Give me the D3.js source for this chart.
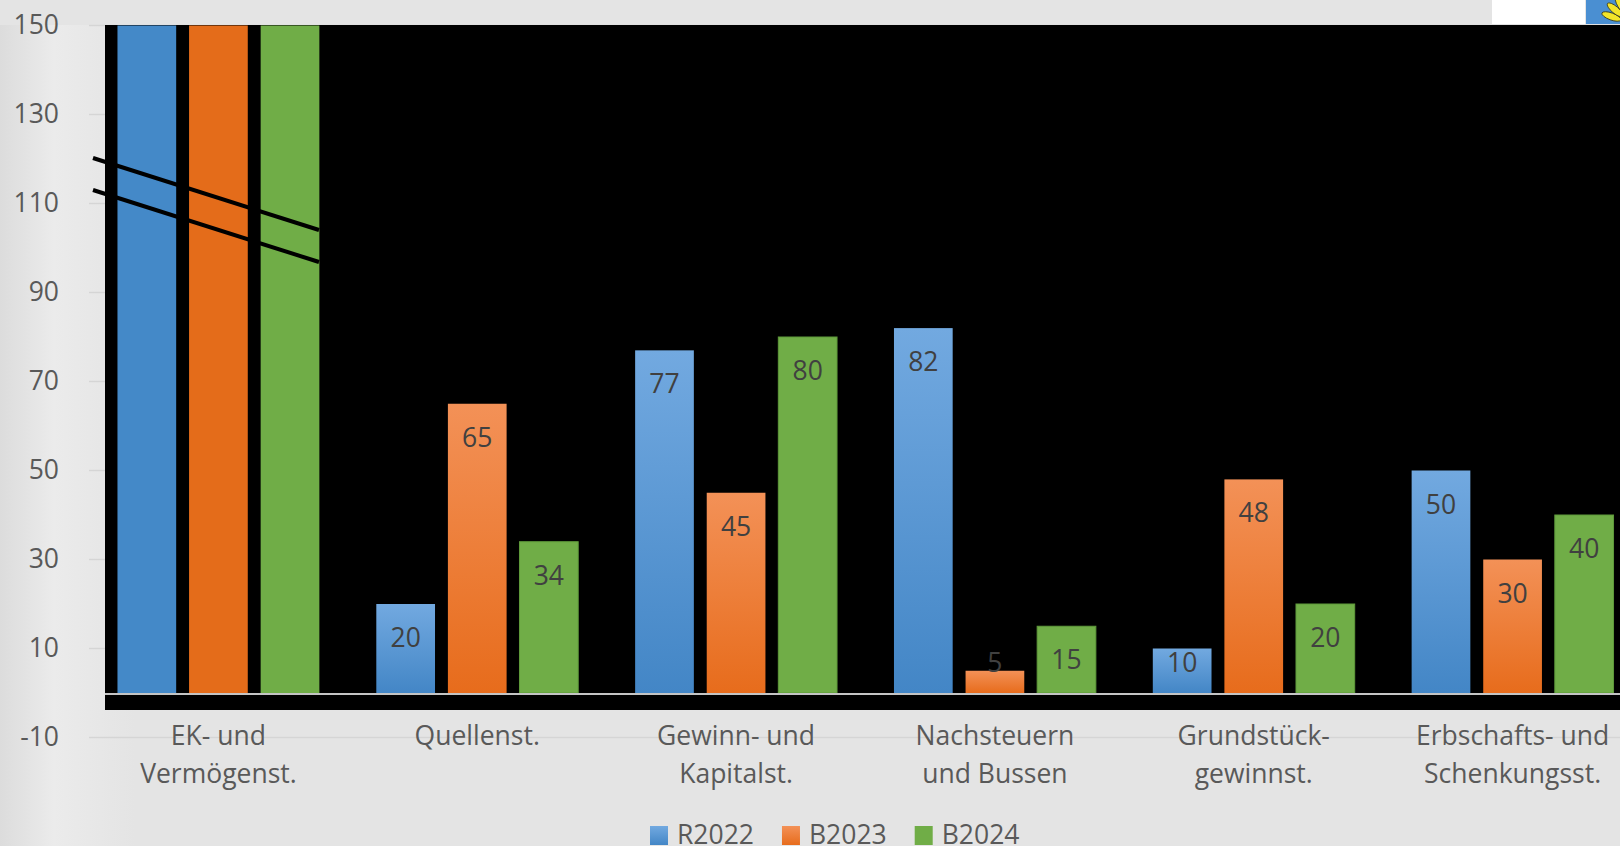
<!DOCTYPE html>
<html lang="de">
<head>
<meta charset="UTF-8">
<title>Steuerertraege</title>
<script src="https://d3js.org/d3.v7.min.js"></script>
<style>
    html, body { margin: 0; padding: 0; background: #e4e4e4; overflow: hidden; }
    svg { display: block; font-family: "Open Sans", sans-serif; }
</style>
</head>
<body>
<div id="chart"></div>
<script>
// categories (two-line labels)
const categories = ["EK- und|Vermögenst.", "Quellenst.", "Gewinn- und|Kapitalst.",
    "Nachsteuern|und Bussen", "Grundstück-|gewinnst.", "Erbschafts- und|Schenkungsst."];
const seriesNames = ["R2022", "B2023", "B2024"];
// EK values are far off the scale (axis is broken), labels not shown
const r2022 = [1700, 20, 77, 82, 10, 50];
const b2023 = [1750, 65, 45, 5, 48, 30];
const b2024 = [1800, 34, 80, 15, 20, 40];
const yTicks = [150, 130, 110, 90, 70, 50, 30, 10, -10];

const width = 1620, height = 846;
const values = [r2022, b2023, b2024];
const fontSize = "26.5px";

const svg = d3.select("#chart").append("svg")
    .attr("width", width)
    .attr("height", height);

const defs = svg.append("defs");
function vGrad(id, top, bottom) {
    const g = defs.append("linearGradient").attr("id", id)
        .attr("x1", 0).attr("y1", 0).attr("x2", 0).attr("y2", 1);
    g.append("stop").attr("offset", "0%").attr("stop-color", top);
    g.append("stop").attr("offset", "100%").attr("stop-color", bottom);
}
vGrad("gBlue", "#72a9e0", "#4386c6");
vGrad("gOrange", "#f39157", "#e76c1c");
vGrad("gGreen", "#70ad47", "#70ad47");
const bgGrad = defs.append("linearGradient").attr("id", "bgLeft")
    .attr("x1", 0).attr("y1", 0).attr("x2", 1).attr("y2", 0);
bgGrad.append("stop").attr("offset", "0%").attr("stop-color", "#dcdcdc");
bgGrad.append("stop").attr("offset", "40%").attr("stop-color", "#ebebeb");
bgGrad.append("stop").attr("offset", "100%").attr("stop-color", "#e4e4e4");

const gradFill = ["url(#gBlue)", "url(#gOrange)", "url(#gGreen)"];
const flatFill = ["#4489c8", "#e46c1a", "#70ad47"];
const swatchFill = ["url(#gBlue)", "url(#gOrange)", "#70ad47"];

// background
svg.append("rect").attr("width", width).attr("height", height).attr("fill", "#e4e4e4");
svg.append("rect").attr("x", 0).attr("y", 25).attr("width", 135).attr("height", height - 25)
    .attr("fill", "url(#bgLeft)");

// scales
const y = d3.scaleLinear().domain([-10, 150]).range([737.5, 25.5]).clamp(true);
const x0 = d3.scaleBand().domain(categories).range([89, 1642])
    .paddingInner(0.22).paddingOuter(0.11);
const x1 = d3.scaleBand().domain(seriesNames).range([0, x0.bandwidth()])
    .paddingInner(0.18);

// gridlines
svg.append("g").selectAll("line").data(yTicks).join("line")
    .attr("x1", 89).attr("x2", width)
    .attr("y1", d => y(d)).attr("y2", d => y(d))
    .attr("stroke", "#d5d5d5").attr("stroke-width", 1.5);

// black panel behind the plot
svg.append("rect").attr("x", 105).attr("y", 25)
    .attr("width", width - 105).attr("height", 710 - 25).attr("fill", "#000");

// y axis labels
const yAxis = svg.append("g").attr("transform", "translate(59,0)")
    .call(d3.axisLeft(y).tickValues(yTicks).tickSize(0).tickPadding(0)
        .tickFormat(d => String(d)));
yAxis.select(".domain").remove();
yAxis.selectAll("text")
    .attr("fill", "#595959")
    .style("font-size", fontSize)
    .style("font-family", "'Open Sans', sans-serif");

// bars
const groups = svg.append("g").selectAll("g").data(categories).join("g")
    .attr("transform", d => `translate(${x0(d)},0)`);

groups.selectAll("rect")
    .data((c, i) => seriesNames.map((s, j) => ({ s, j, i, v: values[j][i] })))
    .join("rect")
    .attr("x", d => x1(d.s))
    .attr("width", x1.bandwidth())
    .attr("y", d => y(d.v))
    .attr("height", d => y(0) - y(d.v))
    .attr("fill", d => d.i === 0 ? flatFill[d.j] : gradFill[d.j])
    .attr("stroke", d => d.j === 2 && d.i > 0 ? "#5f9a3b" : "none")
    .attr("stroke-width", 1);

// zero line
svg.append("line").attr("x1", 105).attr("x2", width)
    .attr("y1", y(0) + 1).attr("y2", y(0) + 1)
    .attr("stroke", "#c4c4c4").attr("stroke-width", 2);

// data labels (not for broken EK group)
groups.filter((c, i) => i > 0).selectAll("text")
    .data((c, i) => seriesNames.map((s, j) => ({ s, v: values[j][i + 1] })))
    .join("text")
    .attr("x", d => x1(d.s) + x1.bandwidth() / 2)
    .attr("y", d => Math.min(y(d.v) + 33, y(0) - 31))
    .attr("text-anchor", "middle")
    .attr("dominant-baseline", "central")
    .attr("fill", "#404040")
    .style("font-size", fontSize)
    .text(d => d.v);

// axis break marks on the EK bars
const breakLines = [[93, 158, 319, 230], [93, 190, 319, 262]];
svg.append("g").selectAll("line").data(breakLines).join("line")
    .attr("x1", d => d[0]).attr("y1", d => d[1])
    .attr("x2", d => d[2]).attr("y2", d => d[3])
    .attr("stroke", "#000").attr("stroke-width", 4);

// category labels
const catLabels = svg.append("g").selectAll("text").data(categories).join("text")
    .attr("text-anchor", "middle")
    .attr("fill", "#595959")
    .style("font-size", fontSize);
catLabels.each(function(d) {
    const cx = x0(d) + x0.bandwidth() / 2;
    d.split("|").forEach((line, k) => {
        d3.select(this).append("tspan")
            .attr("x", cx).attr("y", 745 + k * 38).text(line);
    });
});

// legend
const legend = svg.append("g");
let lx = 650;
seriesNames.forEach((s, j) => {
    legend.append("rect").attr("x", lx).attr("y", 826).attr("width", 18).attr("height", 19)
        .attr("fill", swatchFill[j]);
    const t = legend.append("text").attr("x", lx + 27).attr("y", 844)
        .attr("fill", "#595959").style("font-size", fontSize).text(s);
    lx += 27 + t.node().getComputedTextLength() + 28;
});

// top right corner: white strip and logo tile
svg.append("rect").attr("x", 1492).attr("y", 0).attr("width", 93).attr("height", 24).attr("fill", "#fff");
svg.append("rect").attr("x", 1586).attr("y", 0).attr("width", 34).attr("height", 24).attr("fill", "#4a8fd2");
const petals = [-70, -50, -30, -10, 10];
svg.append("g").attr("transform", "translate(1632,24)").selectAll("ellipse").data(petals).join("ellipse")
    .attr("cx", 0).attr("cy", -22).attr("rx", 3.5).attr("ry", 10)
    .attr("transform", d => `rotate(${d})`)
    .attr("fill", "#f3e52a").attr("stroke", "#3a3a1a").attr("stroke-width", 0.8);
</script>
</body>
</html>
